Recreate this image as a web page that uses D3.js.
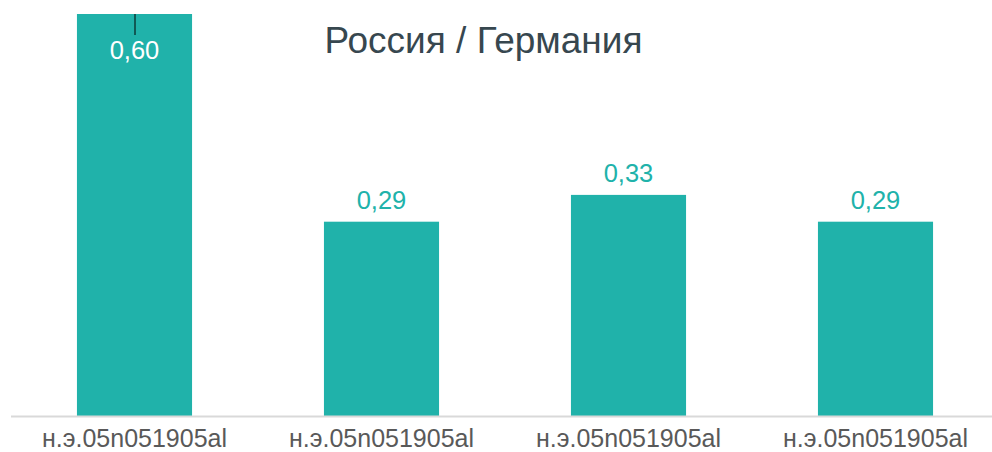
<!DOCTYPE html>
<html>
<head>
<meta charset="utf-8">
<script src="https://cdn.jsdelivr.net/npm/d3@7"></script>
<style>
    body { margin: 0; background: #fff; }
    svg { display: block; font-family: "Liberation Sans", Arial, sans-serif; }
</style>
</head>
<body>
<svg id="chart" width="992" height="452"></svg>
<script>
'use strict';

const title = 'Россия / Германия';
const categories = ['н.э.05n051905al', 'н.э.05n051905al', 'н.э.05n051905al', 'н.э.05n051905al'];
const values = [0.60, 0.29, 0.33, 0.29];
const valueLabels = ['0,60', '0,29', '0,33', '0,29'];

const color = '#20b2aa';

const svg = d3.select('#chart');
const width = 992, height = 452;
const plotLeft = 11, plotRight = 999, plotTop = 14, plotBottom = 416;

// bands 247 px wide, bars 115 px (the four labels are the same, so band by index)
const x = d3.scaleBand()
    .domain(d3.range(categories.length))
    .range([plotLeft, plotRight])
    .paddingInner(0.534)
    .paddingOuter(0.267);

const y = d3.scaleLinear()
    .domain([0, 0.6])
    .range([plotBottom, plotTop]);

// bars
svg.append('g')
    .selectAll('rect')
    .data(values)
    .enter().append('rect')
    .attr('x', (d, i) => x(i))
    .attr('y', d => y(d))
    .attr('width', x.bandwidth())
    .attr('height', d => plotBottom - y(d))
    .attr('fill', color);

// baseline axis
const xAxis = d3.axisBottom(x)
    .tickSize(0)
    .tickPadding(30)
    .tickFormat(i => categories[i]);

const axis = svg.append('g')
    .attr('transform', 'translate(0,' + (plotBottom + 0.5) + ')')
    .call(xAxis);

axis.select('.domain')
    .attr('d', 'M' + plotLeft + ',0H' + width)
    .attr('stroke', '#d9d9d9')
    .attr('stroke-width', 2);

axis.selectAll('.tick text')
    .attr('dy', null)
    .attr('fill', '#595959')
    .style('font-size', '25px')
    .style('font-family', '"Liberation Sans", Arial, sans-serif');

// value labels: the tallest one sits inside its bar
const inside = d => d >= 0.6;

svg.append('g')
    .selectAll('text')
    .data(values)
    .enter().append('text')
    .attr('x', (d, i) => x(i) + x.bandwidth() / 2)
    .attr('y', d => inside(d) ? y(d) + 45 : y(d) - 13)
    .attr('text-anchor', 'middle')
    .attr('fill', d => inside(d) ? '#fff' : color)
    .style('font-size', '25.5px')
    .text((d, i) => valueLabels[i]);

// small leader line on the inside label
svg.append('g')
    .selectAll('line')
    .data(values.map((d, i) => ({ d, i })).filter(p => inside(p.d)))
    .enter().append('line')
    .attr('x1', p => x(p.i) + x.bandwidth() / 2 + 0.5)
    .attr('x2', p => x(p.i) + x.bandwidth() / 2 + 0.5)
    .attr('y1', p => y(p.d))
    .attr('y2', p => y(p.d) + 21)
    .attr('stroke', '#000')
    .attr('stroke-width', 1);

svg.append('text')
    .attr('x', 483.5)
    .attr('y', 53)
    .attr('text-anchor', 'middle')
    .attr('fill', '#37474f')
    .style('font-size', '37px')
    .text(title);
</script>
</body>
</html>
